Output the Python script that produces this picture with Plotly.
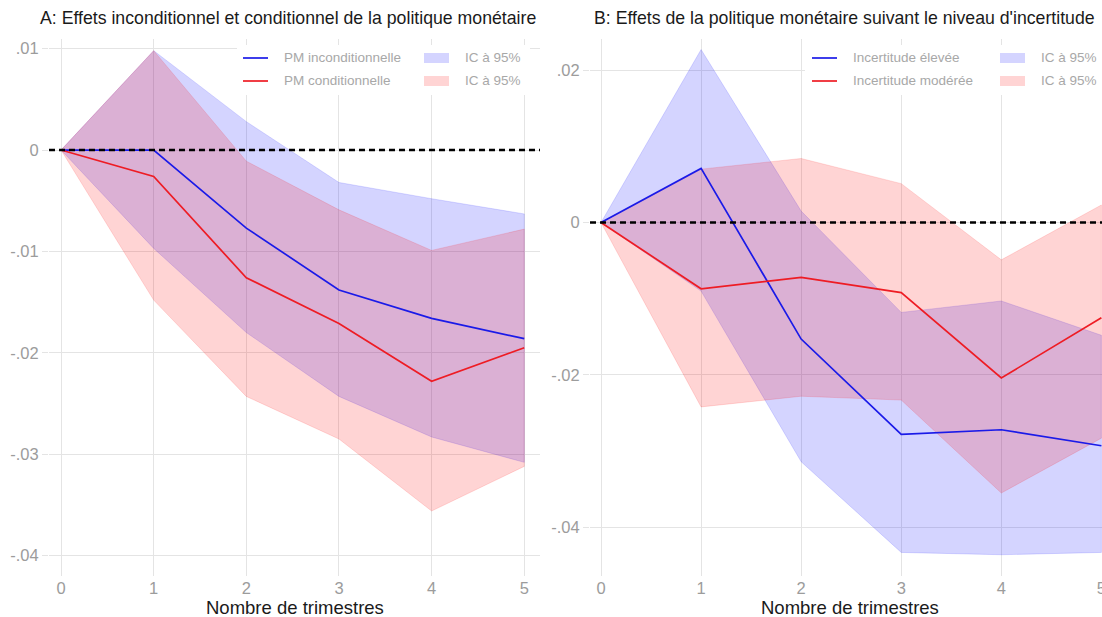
import plotly.graph_objects as go

# ---- data -------------------------------------------------------------
trimestres = [0, 1, 2, 3, 4, 5]

# Panel A: unconditional vs conditional monetary policy effect
pm_incond = [0, 0.0, -0.0077, -0.0138, -0.0166, -0.0186]
pm_cond = [0, -0.0026, -0.0126, -0.0171, -0.0228, -0.0195]
ic_incond_haut = [0, 0.0098, 0.0028, -0.0032, -0.0048, -0.0063]
ic_incond_bas = [0, -0.0097, -0.0180, -0.0243, -0.0283, -0.0308]
ic_cond_haut = [0, 0.0098, -0.0011, -0.0059, -0.0099, -0.0078]
ic_cond_bas = [0, -0.0148, -0.0243, -0.0285, -0.0356, -0.0312]

# Panel B: effect by uncertainty level
incert_elevee = [0, 0.0071, -0.0153, -0.0278, -0.0272, -0.0293]
incert_moderee = [0, -0.0087, -0.0072, -0.0092, -0.0204, -0.0125]
ic_elevee_haut = [0, 0.0227, 0.0015, -0.0118, -0.0103, -0.0148]
ic_elevee_bas = [0, -0.0090, -0.0314, -0.0433, -0.0436, -0.0433]
ic_moderee_haut = [0, 0.0070, 0.0084, 0.0051, -0.0049, 0.0023]
ic_moderee_bas = [0, -0.0242, -0.0228, -0.0233, -0.0355, -0.0283]

ticks_a = [0.01, 0, -0.01, -0.02, -0.03, -0.04]
labels_a = [".01", "0", "-.01", "-.02", "-.03", "-.04"]
ticks_b = [0.02, 0, -0.02, -0.04]
labels_b = [".02", "0", "-.02", "-.04"]

titre_a = "A: Effets inconditionnel et conditionnel de la politique monétaire"
titre_b = "B: Effets de la politique monétaire suivant le niveau d'incertitude"
titre_x = "Nombre de trimestres"

# ---- styling ----------------------------------------------------------
W, H = 1102, 617
FONT = "Liberation Sans, Arial, sans-serif"
BLUE = "#1a1ae8"
RED = "#ee1c24"
BLUE_FILL = "rgba(0,0,255,0.17)"
RED_FILL = "rgba(255,0,0,0.17)"
GRID = "#e4e4e4"
TICK_COL = "#9c9c9c"
LEG_COL = "#a8a8a8"


def px_x(p):
    return p / W


def px_y(p):
    return 1 - p / H


fig = go.Figure()


def band(xs, hi, lo, fill, xa, ya):
    fig.add_trace(go.Scatter(
        x=list(xs) + list(xs)[::-1], y=list(hi) + list(lo)[::-1],
        fill="toself", fillcolor=fill, mode="lines",
        line=dict(color=fill, width=0.8), hoverinfo="skip",
        showlegend=False, xaxis=xa, yaxis=ya))


def line(xs, ys, color, xa, ya):
    fig.add_trace(go.Scatter(
        x=xs, y=ys, mode="lines", line=dict(color=color, width=1.7),
        showlegend=False, xaxis=xa, yaxis=ya))


band(trimestres, ic_incond_haut, ic_incond_bas, BLUE_FILL, "x", "y")
band(trimestres, ic_cond_haut, ic_cond_bas, RED_FILL, "x", "y")
line(trimestres, pm_incond, BLUE, "x", "y")
line(trimestres, pm_cond, RED, "x", "y")

band(trimestres, ic_elevee_haut, ic_elevee_bas, BLUE_FILL, "x2", "y2")
band(trimestres, ic_moderee_haut, ic_moderee_bas, RED_FILL, "x2", "y2")
line(trimestres, incert_elevee, BLUE, "x2", "y2")
line(trimestres, incert_moderee, RED, "x2", "y2")

# panel geometry (pixels)
A_L, A_R = 49, 540
B_L = 590
P_T, P_B = 39, 576

axis_common = dict(
    showgrid=True, gridcolor=GRID, gridwidth=1, zeroline=False,
    showline=False, tickfont=dict(family=FONT, size=16.5, color=TICK_COL),
    ticklabeloverflow="allow", automargin=False,
)

fig.update_layout(
    width=W, height=H, margin=dict(l=0, r=0, t=0, b=0, autoexpand=False),
    paper_bgcolor="white", plot_bgcolor="white", showlegend=False,
    xaxis=dict(domain=[px_x(A_L), px_x(A_R)], range=[-0.13, 5.17],
               tickvals=trimestres, anchor="y", ticks="", **axis_common),
    yaxis=dict(domain=[px_y(P_B), px_y(P_T)], range=[-0.04201, 0.01095],
               tickvals=ticks_a, ticktext=labels_a, anchor="x",
               ticks="outside", ticklen=6, tickcolor=GRID, **axis_common),
    xaxis2=dict(domain=[px_x(B_L), 1.0], range=[-0.11, 5.006],
                tickvals=trimestres, anchor="y2", ticks="", **axis_common),
    yaxis2=dict(domain=[px_y(P_B), px_y(P_T)], range=[-0.04639, 0.02408],
                tickvals=ticks_b, ticktext=labels_b, anchor="x2",
                ticks="outside", ticklen=6, tickcolor=GRID, **axis_common),
)

# dashed zero reference lines
for xr, yr in (("x domain", "y"), ("x2 domain", "y2")):
    fig.add_shape(type="line", xref=xr, yref=yr, x0=0, x1=1, y0=0, y1=0,
                  line=dict(color="black", width=2.5, dash="6px,4px"),
                  layer="above")

annotations = []


def text(x, y, s, size, color, xanchor="center"):
    annotations.append(dict(
        x=px_x(x), y=px_y(y), xref="paper", yref="paper", text=s,
        showarrow=False, xanchor=xanchor, yanchor="middle",
        font=dict(family=FONT, size=size, color=color)))


# titles
text(288, 18, titre_a, 17.7, "#1a1a1a")
text(844, 18, titre_b, 17.7, "#1a1a1a")
text(295, 607, titre_x, 18.5, "#1a1a1a")
text(850, 607, titre_x, 18.5, "#1a1a1a")


def legend(box, rows):
    x0, y0, x1, y1 = box
    fig.add_shape(type="rect", xref="paper", yref="paper",
                  x0=px_x(x0), x1=px_x(x1), y0=px_y(y1), y1=px_y(y0),
                  fillcolor="white", line=dict(width=0), layer="above")
    for (lx, ly, lab, col, rx, rlab, rfill) in rows:
        fig.add_shape(type="line", xref="paper", yref="paper",
                      x0=px_x(lx), x1=px_x(lx + 25), y0=px_y(ly), y1=px_y(ly),
                      line=dict(color=col, width=1.7), layer="above")
        text(lx + 39, ly, lab, 13.5, LEG_COL, "left")
        fig.add_shape(type="rect", xref="paper", yref="paper",
                      x0=px_x(rx), x1=px_x(rx + 25),
                      y0=px_y(ly + 5), y1=px_y(ly - 5),
                      fillcolor=rfill, line=dict(width=0), layer="above")
        text(rx + 39, ly, rlab, 13.5, LEG_COL, "left")


legend((237, 45, 530, 95), [
    (243, 58, "PM inconditionnelle", BLUE, 424, "IC à 95%", BLUE_FILL),
    (243, 81, "PM conditionnelle", RED, 424, "IC à 95%", RED_FILL),
])
legend((805, 45, 1102, 95), [
    (812, 58, "Incertitude élevée", BLUE, 1000, "IC à 95%", BLUE_FILL),
    (812, 81, "Incertitude modérée", RED, 1000, "IC à 95%", RED_FILL),
])

fig.update_layout(annotations=annotations)

# the last x tick label of panel B sits on the page edge: clip it there
# instead of letting it widen the page
clip_js = (
    "document.documentElement.style.overflow='hidden';"
    "document.body.style.overflow='hidden';"
)
fig.write_html("out.html", post_script=clip_js)
